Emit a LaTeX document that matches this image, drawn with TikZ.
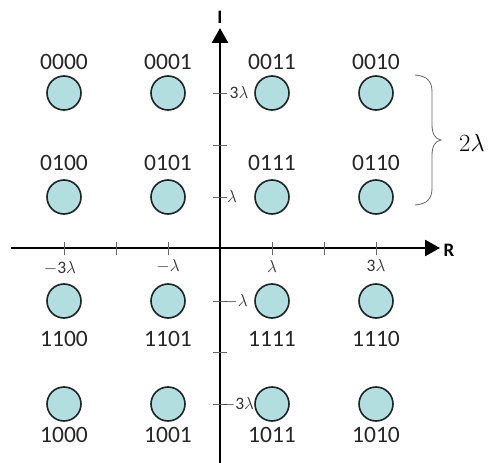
\documentclass[tikz,border=0pt]{standalone}
\usepackage{fontspec}
\setmainfont{Carlito}
\usetikzlibrary{arrows.meta}
\definecolor{dotfill}{RGB}{178,222,224}
\definecolor{dotline}{RGB}{30,35,35}
\tikzset{
  pt/.style={circle,draw=dotline,line width=1.6bp,fill=dotfill,minimum size=34bp,inner sep=0pt},
  bits/.style={font=\fontsize{23.5bp}{26bp}\selectfont,inner sep=0pt,text=black!85},
  tickl/.style={font=\fontsize{17.5bp}{19bp}\selectfont,inner sep=0pt,text=black!80},
  axis/.style={line width=2.6bp,-{Triangle[length=15bp,width=16bp]}},
  tk/.style={line width=0.7bp,draw=black!60},
  axl/.style={font=\fontsize{19bp}{20bp}\selectfont\bfseries,inner sep=0pt}
}
\begin{document}
\begin{tikzpicture}[x=1bp,y=-1bp]
\useasboundingbox (0,0) rectangle (491,463);
% axes
\coordinate (xs) at (11,248);
\coordinate (xe) at (440,248);
\coordinate (ys) at (220,463);
\coordinate (ye) at (220,28);
\draw[axis] (xs) -- (xe);
\draw[axis] (ys) -- (ye);
\node[axl] (R) at (449,250) {R};
\node[axl] (I) at (220,17) {I};
% ticks
\foreach \x in {64,116,168,272,324,376} \draw[tk] (\x,242) -- (\x,255);
\foreach \y in {93,145,197,301,352,404} \draw[tk] (213,\y) -- (227,\y);
% tick labels
\node[tickl] (tx1) at (60,268) {$-$3$\lambda$};
\node[tickl] (tx2) at (168,266) {$-\lambda$};
\node[tickl] (tx3) at (272,267) {$\lambda$};
\node[tickl] (tx4) at (376,266) {3$\lambda$};
\node[tickl] (ty1) at (239,93) {3$\lambda$};
\node[tickl] (ty2) at (232,197) {$\lambda$};
\node[tickl] (ty3) at (236,301) {$-\lambda$};
\node[tickl] (ty4) at (238,404) {$-$3$\lambda$};
% points
\node[pt] (p00) at (64,93) {};
\node[pt] (p01) at (168,93) {};
\node[pt] (p02) at (272,93) {};
\node[pt] (p03) at (376,93) {};
\node[pt] (p10) at (64,197) {};
\node[pt] (p11) at (168,197) {};
\node[pt] (p12) at (272,197) {};
\node[pt] (p13) at (376,197) {};
\node[pt] (p20) at (64,301) {};
\node[pt] (p21) at (168,301) {};
\node[pt] (p22) at (272,301) {};
\node[pt] (p23) at (376,301) {};
\node[pt] (p30) at (64,404) {};
\node[pt] (p31) at (168,404) {};
\node[pt] (p32) at (272,404) {};
\node[pt] (p33) at (376,404) {};
% bit labels
\node[bits] (b00) at (64,62) {0000};
\node[bits] (b01) at (168,62) {0001};
\node[bits] (b02) at (272,62) {0011};
\node[bits] (b03) at (376,62) {0010};
\node[bits] (b10) at (64,163) {0100};
\node[bits] (b11) at (168,163) {0101};
\node[bits] (b12) at (272,163) {0111};
\node[bits] (b13) at (376,163) {0110};
\node[bits] (b20) at (64,339) {1100};
\node[bits] (b21) at (168,339) {1101};
\node[bits] (b22) at (272,339) {1111};
\node[bits] (b23) at (376,339) {1110};
\node[bits] (b30) at (64,435) {1000};
\node[bits] (b31) at (168,435) {1001};
\node[bits] (b32) at (272,435) {1011};
\node[bits] (b33) at (376,435) {1010};
% brace
\coordinate (bt) at (415,75);
\coordinate (bb) at (415,205);
\coordinate (btip) at (441,140);
\draw[line width=0.8bp,draw=black!60]
  (bt) .. controls (428,76) and (432,82) .. (432,92)
  -- (432,124) .. controls (432,134) and (435,139) .. (btip)
  .. controls (435,141) and (432,146) .. (432,156)
  -- (432,188) .. controls (432,198) and (428,204) .. (bb);
\node[font=\fontsize{25bp}{27bp}\selectfont,inner sep=0pt] (two) at (472,143) {$2\lambda$};
\end{tikzpicture}
\end{document}
